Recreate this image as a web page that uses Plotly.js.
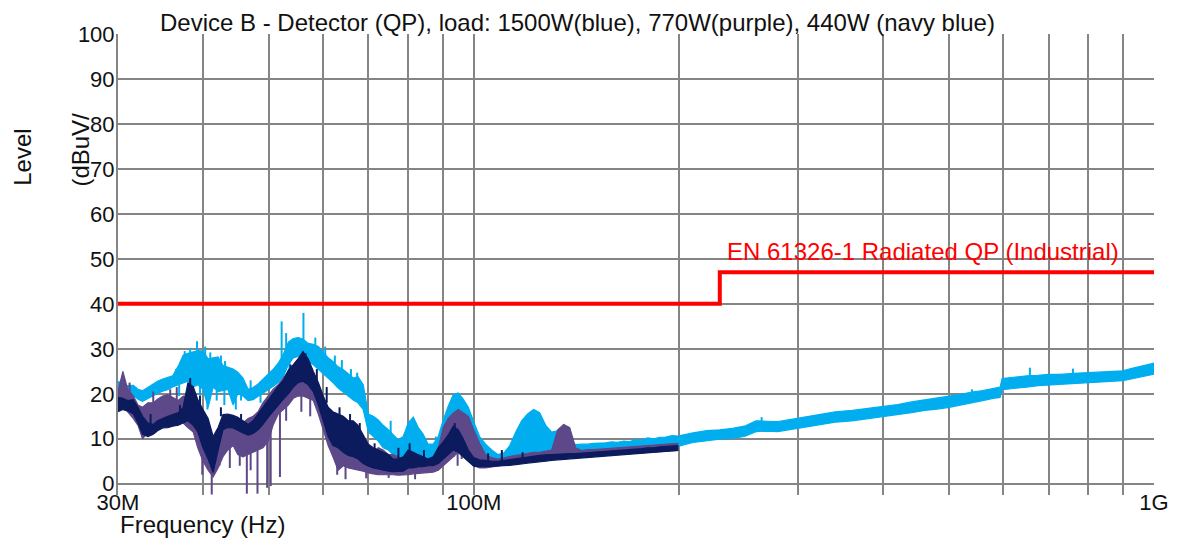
<!DOCTYPE html>
<html>
<head>
<meta charset="utf-8">
<script src="https://cdn.plot.ly/plotly-3.0.1.min.js"></script>
<style>
  html, body { margin: 0; padding: 0; background: #ffffff; }
  #chart { width: 1177px; height: 539px; }
</style>
</head>
<body>
<div id="chart"></div>
<script>
// Sweep frequencies (MHz), 30 MHz - 200 MHz (all three loads measured here)
const freqLow = [30, 30.5, 31, 31.6, 32.1, 32.6, 33.2, 33.8, 34.3, 34.9, 35.5, 36.1, 36.8, 37.4, 38, 38.7, 39.3, 40, 40.7, 41.4,
  42.1, 42.8, 43.5, 44.3, 45, 45.8, 46.6, 47.4, 48.2, 49, 49.9, 50.7, 51.6, 52.5, 53.4, 54.3, 55.2, 56.1, 57.1, 58.1,
  59.1, 60.1, 61.1, 62.1, 63.2, 64.3, 65.4, 66.5, 67.6, 68.8, 70, 71.2, 72.4, 73.6, 74.9, 76.1, 77.4, 78.8, 80.1, 81.5,
  82.9, 84.3, 85.7, 87.2, 88.7, 90.2, 91.7, 93.3, 94.9, 96.5, 98.2, 100,
  102, 104.1, 106.3, 108.5, 110.7, 113, 115.3, 117.6, 120, 122.5, 125, 127.6, 130.2, 132.9, 135.6, 138.4, 141.2, 144.1,
  147.1, 150.1, 153.2, 156.3, 159.5, 162.8, 166.1, 169.5, 173, 176.6, 180.2, 183.9, 187.7, 191.5, 195.5, 199.5];

// Sweep frequencies (MHz), 200 MHz - 1 GHz (1500 W trace continues)
const freqHigh = [210, 220, 230, 240, 250, 260, 270, 280, 290, 300, 320, 340, 360, 380, 400, 420, 440, 460, 480, 500,
  520, 540, 560, 580, 594, 598, 620, 650, 675, 700, 725, 750, 775, 800, 825, 850, 875, 900, 925, 950, 975, 1000];

// 1500 W (blue) – upper / lower edge of the QP trace, dBuV/m
const blueHiLow = [22.8, 22.3, 21.8, 21.9, 21.0, 20.7, 21.5, 22.2, 22.8, 23.3, 23.6, 24.0, 26.2, 28.6, 29.0, 29.3, 29.6, 29.5, 27.8, 28.0,
  28.2, 26.3, 26.0, 25.5, 24.8, 23.5, 21.0, 21.4, 22.2, 23.2, 24.3, 25.4, 26.8, 28.8, 31.5, 32.3, 32.5, 32.2, 31.2, 31.0,
  30.5, 29.2, 28.0, 27.2, 26.0, 25.4, 24.4, 23.5, 23.8, 22.0, 15.5, 15.0, 14.2, 13.0, 12.0, 11.0, 9.8, 10.5, 13.5, 14.8,
  12.5, 11.0, 8.8, 8.8, 10.5, 14.2, 17.2, 19.8, 20.2, 18.8, 17.0, 13.8,
  10.5, 8.8, 7.5, 6.5, 6.8, 8.5, 11.5, 14.0, 15.5, 16.5, 15.8, 13.0, 11.5, 11.8, 10.5, 9.5, 8.7, 8.8, 8.8, 9.0,
  9.0, 9.1, 9.3, 9.2, 9.5, 9.4, 9.8, 9.7, 10.2, 10.0, 10.3, 10.4, 10.7, 10.6];
const blueLoLow = [19.5, 19.8, 19.4, 19.6, 18.8, 18.3, 19.0, 19.6, 20.1, 20.6, 20.9, 21.5, 22.0, 22.4, 22.8, 21.5, 22.0, 21.0, 17.0, 21.5,
  20.5, 20.8, 21.0, 17.5, 20.0, 19.5, 18.5, 18.7, 19.3, 20.2, 20.9, 21.6, 22.5, 23.8, 26.5, 28.0, 28.3, 28.0, 27.5, 26.5,
  25.5, 24.5, 23.5, 22.5, 21.3, 20.5, 19.5, 18.6, 18.0, 16.5, 11.5, 10.5, 9.5, 8.0, 7.5, 6.5, 5.8, 5.6, 6.5, 7.0,
  6.8, 6.0, 5.0, 4.6, 5.0, 7.0, 9.5, 12.0, 13.5, 13.0, 11.5, 9.0,
  6.5, 5.5, 5.2, 5.2, 5.3, 5.5, 5.8, 6.0, 6.3, 6.8, 7.0, 6.8, 6.8, 7.0, 6.8, 6.8, 6.7, 6.7, 6.8, 6.9,
  7.0, 7.1, 7.2, 7.3, 7.4, 7.5, 7.6, 7.7, 7.8, 7.9, 8.0, 8.1, 8.2, 8.3];
const blueHiHigh = [11.3, 11.8, 12.0, 12.3, 12.8, 14.0, 13.9, 13.8, 14.2, 14.6, 15.2, 16.0, 16.3, 16.8, 17.3, 17.6, 18.2, 18.6, 19.0, 19.5,
  19.9, 20.4, 20.7, 21.2, 21.5, 23.4, 23.7, 24.0, 24.1, 24.3, 24.3, 24.5, 24.6, 24.7, 24.8, 24.9, 25.0, 25.1, 25.6, 26.0, 26.4, 26.8];
const blueLoHigh = [9.2, 9.6, 9.9, 10.1, 10.5, 11.6, 11.7, 11.6, 12.0, 12.3, 13.0, 13.7, 14.0, 14.5, 15.0, 15.4, 15.8, 16.3, 16.6, 17.0,
  17.6, 18.0, 18.5, 19.0, 19.2, 20.9, 21.2, 21.5, 21.8, 22.0, 22.1, 22.2, 22.4, 22.5, 22.6, 22.7, 22.8, 22.9, 23.3, 23.7, 24.0, 24.4];

// 770 W (purple)
const purpleHi = [20.5, 25.0, 21.0, 19.5, 17.5, 17.0, 18.0, 18.0, 18.8, 19.5, 19.8, 19.2, 18.5, 19.5, 19.5, 19.0, 17.0, 14.0, 11.0, 9.0,
  8.5, 12.5, 13.0, 13.0, 13.0, 13.5, 14.5, 15.0, 16.0, 18.0, 19.5, 21.0, 22.0, 23.5, 25.0, 26.0, 27.0, 28.3, 27.0, 24.5,
  20.0, 18.5, 16.0, 14.5, 13.5, 13.0, 12.5, 11.5, 10.5, 9.5, 7.5, 7.0, 8.0, 7.5, 6.5, 6.5, 6.0, 5.5, 6.0, 6.5,
  6.0, 5.5, 5.5, 6.0, 8.0, 12.5, 14.5, 15.7, 16.5, 15.7, 15.0, 12.0,
  9.0, 6.5, 5.8, 5.5, 5.8, 6.0, 6.3, 6.5, 6.8, 7.0, 7.0, 7.2, 7.5, 12.0, 13.2, 12.5, 8.0, 7.4, 7.6, 7.6,
  7.7, 7.7, 7.8, 7.9, 8.0, 8.1, 8.2, 8.3, 8.5, 8.5, 8.7, 8.8, 8.9, 9.0];
const purpleLo = [16.5, 17.0, 16.0, 14.5, 13.0, 10.0, 11.5, 12.5, 13.0, 13.8, 14.0, 14.2, 14.0, 13.5, 12.5, 11.5, 8.0, 5.0, 3.0, 1.5,
  3.5, 6.0, 7.5, 8.5, 6.5, 6.0, 6.5, 7.0, 7.5, 8.0, 9.5, 13.0, 15.5, 16.5, 17.5, 19.0, 19.5, 19.5, 19.0, 18.5,
  15.5, 12.0, 8.5, 6.0, 3.0, 4.0, 3.5, 3.2, 3.0, 2.8, 2.4, 2.2, 2.0, 2.0, 2.0, 2.0, 1.9, 1.9, 2.0, 2.2,
  2.3, 2.5, 2.5, 2.6, 3.0, 4.0, 5.0, 6.0, 7.0, 6.0, 5.0, 4.0,
  3.5, 3.5, 3.8, 4.0, 4.2, 4.3, 4.5, 4.8, 5.0, 5.2, 5.3, 5.5, 5.8, 6.0, 6.0, 6.2, 6.2, 6.2, 6.3, 6.3,
  6.4, 6.5, 6.5, 6.6, 6.7, 6.7, 6.8, 6.9, 7.0, 7.0, 7.1, 7.2, 7.3, 7.4];

// 440 W (navy blue)
const navyHi = [19.2, 19.0, 18.5, 18.7, 17.0, 15.0, 13.5, 13.2, 14.0, 14.6, 15.0, 15.4, 15.8, 17.0, 22.4, 21.6, 18.7, 16.5, 14.5, 10.5,
  12.5, 15.4, 15.5, 15.2, 14.8, 14.0, 13.2, 14.0, 15.5, 17.0, 18.8, 20.2, 21.7, 23.0, 25.3, 26.5, 27.8, 29.4, 27.8, 25.0,
  22.5, 19.5, 17.0, 16.0, 15.5, 15.0, 14.0, 14.0, 13.0, 11.0, 8.8, 8.0, 7.5, 7.0, 6.5, 5.5, 5.5, 6.0, 7.5, 7.0,
  6.5, 6.0, 5.5, 6.0, 8.0, 9.3, 10.8, 12.8, 12.0, 10.0, 7.5, 5.8,
  5.3, 5.2, 5.0, 5.0, 5.2, 5.4, 5.6, 5.8, 6.0, 6.2, 6.3, 6.4, 6.5, 6.6, 6.6, 6.7, 6.7, 6.8, 6.9, 7.0,
  7.0, 7.1, 7.2, 7.3, 7.4, 7.5, 7.6, 7.8, 8.0, 8.0, 8.2, 8.3, 8.4, 8.5];
const navyLo = [16.0, 16.5, 16.2, 15.5, 13.5, 11.0, 10.5, 11.0, 11.8, 12.4, 12.5, 12.8, 13.0, 13.5, 14.0, 13.0, 11.5, 8.0, 5.5, 2.5,
  7.5, 12.0, 12.5, 12.4, 11.8, 11.3, 10.8, 11.2, 12.0, 13.2, 14.8, 16.2, 17.5, 18.8, 20.0, 21.5, 22.5, 22.8, 22.0, 20.5,
  17.5, 14.0, 10.5, 8.5, 8.0, 7.0, 6.3, 6.0, 5.5, 4.5, 3.9, 3.5, 3.3, 3.0, 2.8, 2.7, 2.7, 2.8, 3.5, 3.5,
  3.8, 3.8, 4.0, 4.0, 4.5, 5.5, 6.5, 7.5, 7.0, 6.0, 5.0, 3.9,
  3.8, 3.8, 3.8, 3.9, 4.0, 4.1, 4.2, 4.4, 4.6, 4.8, 4.9, 5.0, 5.2, 5.3, 5.4, 5.5, 5.6, 5.7, 5.8, 5.9,
  6.0, 6.1, 6.2, 6.3, 6.4, 6.5, 6.6, 6.7, 6.8, 6.9, 7.0, 7.2, 7.3, 7.4];

// Narrow single-bin excursions: frequency (MHz), start level, end level
const blueSpikeFreq = [39.2, 52.2, 56.2, 67.4, 36.5, 37.6, 38.3, 40.3, 41.0, 42.5, 43.1, 47.0, 53.0, 58.5, 60.5, 62.5, 64.0, 66.0,
  75.5, 79.0, 88.0, 265, 540, 657, 760,
  40.6, 41.9, 44.7, 36.9, 38.2, 39.6, 43.0, 45.5, 48.6, 53.6, 57.5];
const blueSpikeFrom = [28.0, 28.0, 31.0, 22.0, 23.0, 27.0, 28.0, 28.0, 27.5, 26.0, 25.5, 21.0, 30.0, 30.0, 28.0, 26.0, 25.0, 23.5,
  10.5, 9.0, 8.0, 13.0, 19.0, 23.5, 24.0,
  22.0, 22.0, 21.0, 22.0, 24.0, 24.0, 22.0, 21.0, 20.0, 29.0, 28.0];
const blueSpikeTo = [31.7, 36.1, 38.0, 24.7, 25.5, 29.5, 30.2, 30.5, 29.2, 28.5, 27.3, 23.0, 33.5, 32.5, 30.5, 28.5, 27.5, 25.5,
  14.0, 11.0, 10.5, 14.8, 21.0, 25.8, 25.6,
  16.5, 18.5, 16.5, 19.5, 19.0, 17.5, 17.5, 18.5, 18.0, 24.0, 25.0];
const purpleSpikeFreq = [39.9, 41.2, 46.4, 48.1, 49.7, 50.3, 51.9, 94.7, 42.3, 43.8, 45.3, 47.0, 53.0, 55.8, 57.5, 63.0, 64.8,
  69.5, 75.0, 82.0, 93.5, 96.0, 31.2, 33.8, 35.8, 36.6, 39.0];
const purpleSpikeFrom = [12.0, 8.0, 12.0, 12.0, 13.0, 14.0, 16.0, 15.0, 8.0, 9.0, 10.0, 11.0, 20.0, 22.0, 22.0, 8.0, 6.0,
  5.0, 5.0, 5.0, 12.0, 14.0, 18.0, 17.0, 18.0, 18.0, 15.0];
const purpleSpikeTo = [2.0, -2.4, -2.2, -2.2, -0.9, -0.5, 1.5, 4.0, 4.0, 3.5, 4.0, 3.0, 14.0, 16.0, 15.0, 2.0, 1.0,
  1.2, 1.3, 1.0, 6.0, 5.5, 22.5, 20.5, 21.0, 21.5, 20.0];
const navySpikeFreq = [33.5, 37.0, 38.3, 39.6, 40.5, 42.5, 45.5, 48.5, 53.8, 56.6, 58.8, 60.8, 63.5, 65.8, 68.0, 71.5, 77.5,
  80.5, 84.5, 90.5, 93.8, 105, 110, 118];
const navySpikeFrom = [13.0, 15.0, 20.0, 16.0, 12.0, 15.0, 13.0, 14.0, 24.0, 27.0, 22.0, 18.0, 13.0, 12.0, 10.0, 6.0, 5.0,
  6.0, 4.5, 6.0, 9.0, 5.0, 5.0, 5.0];
const navySpikeTo = [15.5, 17.5, 23.5, 19.5, 6.5, 17.0, 15.5, 16.0, 26.5, 29.0, 25.5, 21.5, 17.0, 15.5, 13.5, 9.0, 8.0,
  9.0, 7.5, 9.0, 13.5, 6.8, 7.5, 7.0];

// EN 61326-1 radiated QP limit, industrial (10 m)
const limitFreq = [30, 230, 230, 1000];
const limitLevel = [40, 40, 47, 47];

// Axis ticks
const gridFreq = [30, 40, 50, 60, 70, 80, 90, 100, 200, 300, 400, 500, 600, 700, 800, 900, 1000];
const gridFreqText = ['30M', '', '', '', '', '', '', '100M', '', '', '', '', '', '', '', '', '1G'];
const levelTicks = [0, 10, 20, 30, 40, 50, 60, 70, 80, 90, 100];

const COL_BLUE = '#00aeef';
const COL_PURPLE = '#5d4889';
const COL_NAVY = '#0c1b5e';
const COL_LIMIT = '#ff0000';
const COL_GRID = '#858585';
const FONT = 'Liberation Sans, Arial, Helvetica, sans-serif';

function band(f, hi, lo, color, name) {
  const rf = f.slice().reverse();
  const rlo = lo.slice().reverse();
  return {
    type: 'scatter', mode: 'lines', name: name,
    x: f.concat(rf), y: hi.concat(rlo),
    fill: 'toself', fillcolor: color,
    line: { color: color, width: 1.2 },
    hoverinfo: 'skip', showlegend: false
  };
}

function spikes(f, from, to, color) {
  const x = [], y = [];
  for (let i = 0; i < f.length; i++) {
    x.push(f[i], f[i], null);
    y.push(from[i], to[i], null);
  }
  return {
    type: 'scatter', mode: 'lines', x: x, y: y,
    line: { color: color, width: 2 }, connectgaps: false,
    hoverinfo: 'skip', showlegend: false
  };
}

const traces = [
  band(freqLow.concat(freqHigh), blueHiLow.concat(blueHiHigh), blueLoLow.concat(blueLoHigh), COL_BLUE, '1500W'),
  spikes(blueSpikeFreq, blueSpikeFrom, blueSpikeTo, COL_BLUE),
  band(freqLow, purpleHi, purpleLo, COL_PURPLE, '770W'),
  spikes(purpleSpikeFreq, purpleSpikeFrom, purpleSpikeTo, COL_PURPLE),
  band(freqLow, navyHi, navyLo, COL_NAVY, '440W'),
  spikes(navySpikeFreq, navySpikeFrom, navySpikeTo, COL_NAVY),
  {
    type: 'scatter', mode: 'lines', x: limitFreq, y: limitLevel,
    line: { color: COL_LIMIT, width: 4, shape: 'linear' },
    hoverinfo: 'skip', showlegend: false
  }
];

const layout = {
  width: 1177, height: 539,
  margin: { l: 118, r: 23, t: 34, b: 44, pad: 0 },
  paper_bgcolor: '#ffffff', plot_bgcolor: '#ffffff',
  font: { family: FONT, size: 22, color: '#111111' },
  showlegend: false,
  hovermode: false,
  title: {
    text: 'Device B - Detector (QP), load: 1500W(blue), 770W(purple), 440W (navy blue)',
    font: { family: FONT, size: 24, color: '#111111' },
    xref: 'paper', x: 0.0405, xanchor: 'left',
    yref: 'container', y: 0.958, yanchor: 'middle'
  },
  xaxis: {
    type: 'log',
    range: [Math.log10(30), Math.log10(1000)],
    tickmode: 'array', tickvals: gridFreq, ticktext: gridFreqText,
    ticks: '', ticklabelstandoff: -8,
    tickfont: { family: FONT, size: 22, color: '#111111' },
    showgrid: true, gridcolor: COL_GRID, gridwidth: 2,
    showline: false, zeroline: false
  },
  yaxis: {
    range: [-2.5, 100],
    tickmode: 'array', tickvals: levelTicks,
    ticks: '', ticklabelstandoff: -3,
    tickfont: { family: FONT, size: 22, color: '#111111' },
    showgrid: true, gridcolor: COL_GRID, gridwidth: 2,
    zeroline: true, zerolinecolor: COL_GRID, zerolinewidth: 2,
    showline: true, linecolor: COL_GRID, linewidth: 2
  },
  annotations: [
    {
      text: 'EN 61326-1 Radiated QP (Industrial)',
      xref: 'x', yref: 'y', x: Math.log10(234), y: 51.6,
      xanchor: 'left', yanchor: 'middle', showarrow: false,
      font: { family: FONT, size: 24, color: COL_LIMIT }
    },
    {
      text: 'Level', textangle: -90,
      xref: 'paper', yref: 'y', x: -0.0917, y: 72.7,
      xanchor: 'center', yanchor: 'middle', showarrow: false,
      font: { family: FONT, size: 24, color: '#111111' }
    },
    {
      text: '(dBuV/', textangle: -90,
      xref: 'paper', yref: 'y', x: -0.0357, y: 74.3,
      xanchor: 'center', yanchor: 'middle', showarrow: false,
      font: { family: FONT, size: 24, color: '#111111' }
    },
    {
      text: 'Frequency (Hz)',
      xref: 'paper', yref: 'paper', x: 0, y: -0.064,
      xanchor: 'left', yanchor: 'middle', showarrow: false,
      font: { family: FONT, size: 24, color: '#111111' }
    }
  ]
};

Plotly.newPlot('chart', traces, layout, { staticPlot: true, displayModeBar: false });
</script>
</body>
</html>
